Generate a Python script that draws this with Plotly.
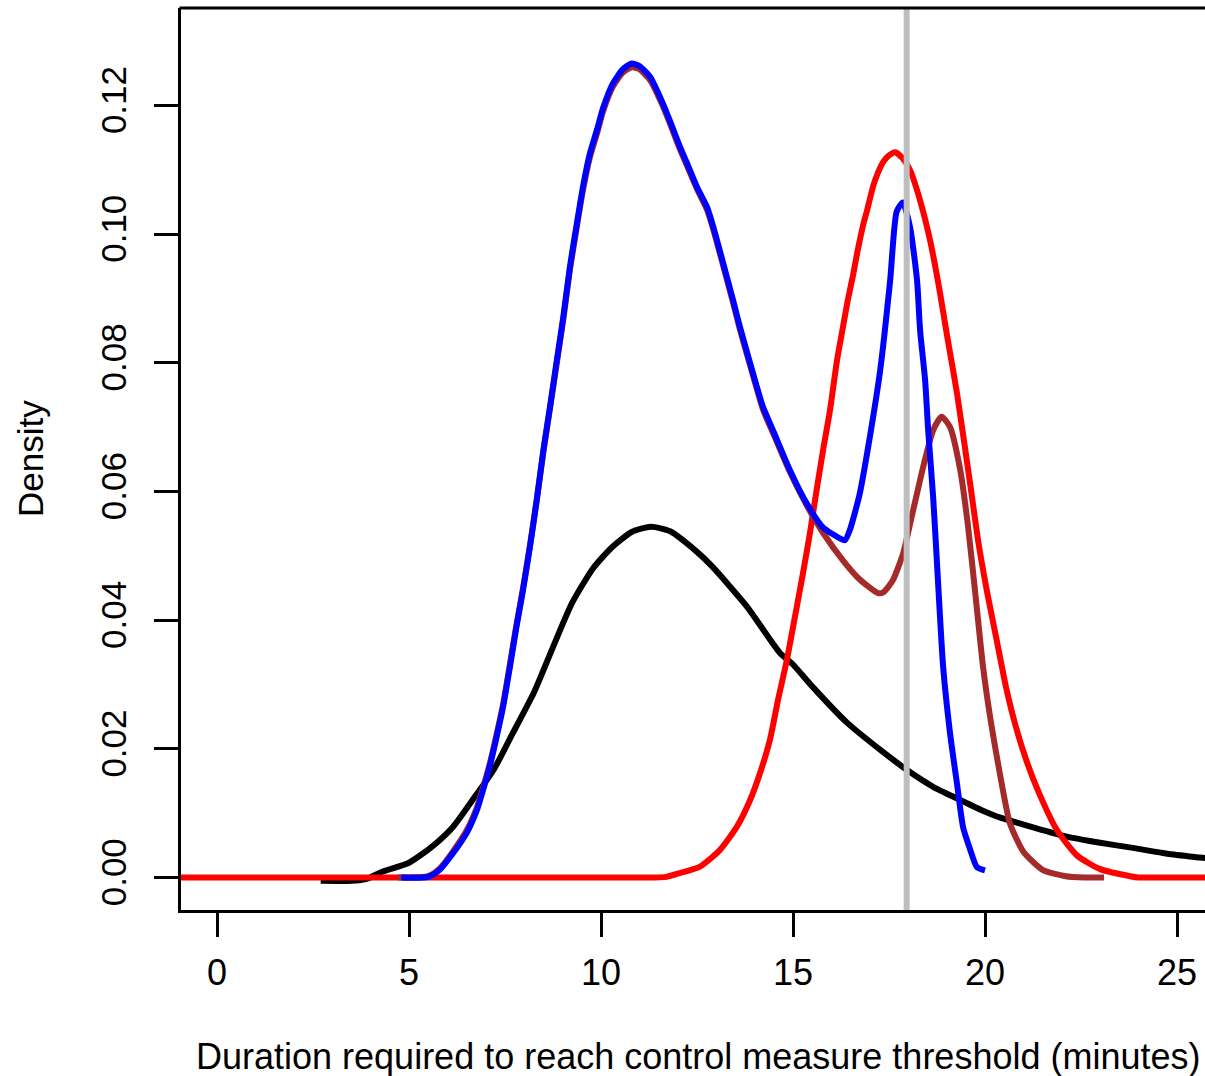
import plotly.graph_objects as go

# ---- data ----
black_x = [2.7, 3.5, 3.9, 4.3, 5.0, 5.6, 6.15, 6.65, 7.2, 7.7, 8.25, 8.75, 9.25, 9.8, 10.3, 10.8, 11.3, 11.8,
           12.5, 12.9, 13.8, 14.66, 15.0, 15.5, 16.4, 17.3, 17.97, 18.65, 19.3, 19.9, 20.4, 21.25, 22.1, 23.0,
           23.85, 24.75, 25.6, 26.2]
black_y = [-0.0005, -0.0005, -0.0002, 0.0009, 0.0023, 0.0048, 0.0079, 0.012, 0.0167, 0.0224, 0.0287, 0.0358,
           0.0427, 0.0481, 0.0514, 0.0537, 0.0545, 0.0538, 0.0506, 0.0483, 0.0421, 0.0349, 0.0331, 0.0297,
           0.0241, 0.0197, 0.0167, 0.0141, 0.0122, 0.0105, 0.0093, 0.0078, 0.0064, 0.0054, 0.0046, 0.0037,
           0.0031, 0.0027]

red_x = [-1.5, 2.0, 5.0, 8.0, 10.0, 11.0, 11.4, 11.7, 12.06, 12.58, 13.1, 13.54, 13.88, 14.14, 14.4, 14.61,
         14.84, 15.05, 15.26, 15.44, 15.62,
         15.8, 15.96, 16.15, 16.3, 16.41, 16.56, 16.67, 16.83, 16.93, 17.09, 17.19, 17.35, 17.5, 17.66, 17.85,
         18.05, 18.31, 18.57, 18.83, 19.0, 19.27, 19.61, 19.83, 20.05, 20.3, 20.55, 20.8, 21.1, 21.43, 21.87,
         22.4, 23.0, 23.78, 24.0, 24.5, 25.5, 26.5]
red_y = [0.0, 0.0, 0.0, 0.0, 0.0, 0.0, 0.0, 0.0001, 0.0007, 0.0017, 0.0043, 0.0079, 0.012, 0.0162, 0.0214,
         0.0276, 0.0338, 0.0405, 0.0473,
         0.0535, 0.0604, 0.067, 0.0725, 0.0805, 0.0855, 0.0892, 0.0935, 0.097, 0.1015, 0.1037, 0.1075, 0.1092,
         0.1112, 0.1122, 0.1127, 0.1118, 0.1099, 0.1052, 0.099, 0.0908, 0.0846, 0.0753, 0.0613, 0.052, 0.0445,
         0.037, 0.0295, 0.0235, 0.0178, 0.0128, 0.0074, 0.0034, 0.0013, 0.0002, 0.0, 0.0, 0.0, 0.0]

brown_x = [4.7, 5.5, 5.8, 6.15, 6.5, 6.77, 6.93, 7.1, 7.28, 7.45, 7.63, 7.8, 7.97, 8.15, 8.33, 8.5, 8.67, 8.85,
           9.02, 9.19, 9.37, 9.53, 9.71, 9.9, 10.05, 10.31, 10.57, 10.8, 11.0, 11.28, 11.61, 11.8, 12.06, 12.24,
           12.5, 12.76, 12.92, 13.18, 13.44, 13.62, 13.96, 14.22, 14.5, 14.92, 15.36, 15.79, 16.3, 16.74, 17.21,
           17.35, 17.6, 17.87, 18.13, 18.39, 18.65, 18.87, 19.09, 19.35, 19.55, 19.75, 19.95, 20.15, 20.4,
           20.65, 21.0, 21.5, 22.1, 22.6, 23.1]
brown_y = [0.0, 0.0002, 0.0014, 0.0041, 0.0073, 0.0109, 0.014, 0.0176, 0.0222, 0.0269, 0.0332, 0.0393, 0.045,
           0.0516, 0.0588, 0.0662, 0.0728, 0.08, 0.0868, 0.0944, 0.1011, 0.1068, 0.1119, 0.1157, 0.119, 0.1229,
           0.1251, 0.1259, 0.1256, 0.1239, 0.1199, 0.1171, 0.1131, 0.1106, 0.107, 0.1038, 0.1008, 0.0951,
           0.0893, 0.0851, 0.078, 0.0727, 0.0688, 0.063, 0.0578, 0.0535, 0.0493, 0.0463, 0.0442, 0.0443,
           0.0462, 0.0504, 0.0571, 0.0638, 0.0695, 0.0716, 0.07, 0.0635, 0.055, 0.044, 0.0327, 0.0243, 0.0157,
           0.0084, 0.004, 0.0012, 0.0002, 0.0, 0.0]

blue_x = [4.8, 5.5, 5.8, 6.15, 6.5, 6.77, 6.93, 7.1, 7.28, 7.45, 7.63, 7.8, 7.97, 8.15, 8.33, 8.5, 8.67, 8.85,
          9.02, 9.19, 9.37, 9.53, 9.71, 9.9, 10.05, 10.31, 10.57, 10.8, 11.0, 11.28, 11.61, 11.8, 12.06, 12.24,
          12.5, 12.76, 12.92, 13.18, 13.44, 13.62, 13.96, 14.22, 14.5, 14.92, 15.36, 15.78, 16.22, 16.35,
          16.48, 16.74, 17.0, 17.27, 17.53, 17.7, 17.86, 18.05, 18.23, 18.31, 18.44, 18.52, 18.65, 18.75,
          18.91, 19.09, 19.27, 19.43, 19.6, 19.79, 20.0]
blue_y = [0.0, 0.0001, 0.0012, 0.0038, 0.0069, 0.0105, 0.0136, 0.0172, 0.0218, 0.0265, 0.0328, 0.039, 0.0447,
          0.0514, 0.0588, 0.0664, 0.0731, 0.0804, 0.0872, 0.0949, 0.1016, 0.1073, 0.1125, 0.1163, 0.1195,
          0.1234, 0.1256, 0.1265, 0.1261, 0.1244, 0.1203, 0.1175, 0.1135, 0.111, 0.1073, 0.1042, 0.1012,
          0.0955, 0.0897, 0.0855, 0.0783, 0.0731, 0.0692, 0.0633, 0.0581, 0.0544, 0.0527, 0.0524, 0.054,
          0.0597, 0.0684, 0.0788, 0.0928, 0.1035, 0.1049, 0.101, 0.0928, 0.085, 0.0773, 0.0695, 0.0591,
          0.0488, 0.0327, 0.0224, 0.0146, 0.0078, 0.0046, 0.0016, 0.0011]

threshold_x = 17.96

x_ticks = [0, 5, 10, 15, 20, 25]
y_ticks = [0.00, 0.02, 0.04, 0.06, 0.08, 0.10, 0.12]
y_tick_text = ["0.00", "0.02", "0.04", "0.06", "0.08", "0.10", "0.12"]

x_title = "Duration required to reach control measure threshold (minutes)"
y_title = "Density"

FONT = "Liberation Sans, Arial, sans-serif"
LW = 6


def curve(xs, ys, color):
    return go.Scatter(x=xs, y=ys, mode="lines",
                      line=dict(color=color, width=LW, shape="spline", smoothing=0.6))


fig = go.Figure()
fig.add_trace(curve(black_x, black_y, "#000000"))
fig.add_trace(curve(red_x, red_y, "#FF0000"))
fig.add_trace(curve(brown_x, brown_y, "#A52A2A"))
fig.add_trace(curve(blue_x, blue_y, "#0000FF"))
fig.add_trace(go.Scatter(x=[threshold_x, threshold_x], y=[-0.01, 0.2], mode="lines",
                         line=dict(color="#BEBEBE", width=6)))

fig.update_layout(
    width=1205, height=1076,
    margin=dict(l=181, r=0, t=8, b=166),
    paper_bgcolor="white", plot_bgcolor="white",
    showlegend=False,
    font=dict(family=FONT, size=35, color="#000000"),
    xaxis=dict(range=[-0.9375, 25.729], tickvals=x_ticks, ticks="outside", ticklen=24, tickwidth=3,
               tickcolor="black", showline=True, linewidth=3, linecolor="black", showgrid=False,
               zeroline=False, tickfont=dict(size=36, family=FONT), ticklabelstandoff=5),
    yaxis=dict(range=[-0.00505, 0.13512], tickvals=y_ticks, ticktext=y_tick_text, ticks="outside",
               ticklen=24, tickwidth=3, tickcolor="black", showline=True, linewidth=3, linecolor="black",
               showgrid=False, zeroline=False, tickangle=-90, tickfont=dict(size=35, family=FONT),
               ticklabelstandoff=14),
    shapes=[dict(type="line", xref="paper", yref="paper", x0=-0.0015, x1=1.01, y0=1, y1=1,
                 line=dict(color="black", width=3))],
    annotations=[
        dict(text=x_title, xref="paper", yref="paper", x=(698 - 181) / 1024, y=-(1056 - 910) / 902,
             xanchor="center", yanchor="middle", showarrow=False, font=dict(size=36, family=FONT)),
        dict(text=y_title, xref="paper", yref="paper", x=-(181 - 30) / 1024, y=0.5, textangle=-90,
             xanchor="center", yanchor="middle", showarrow=False, font=dict(size=35, family=FONT)),
    ],
)

fig.write_html("out.html")
